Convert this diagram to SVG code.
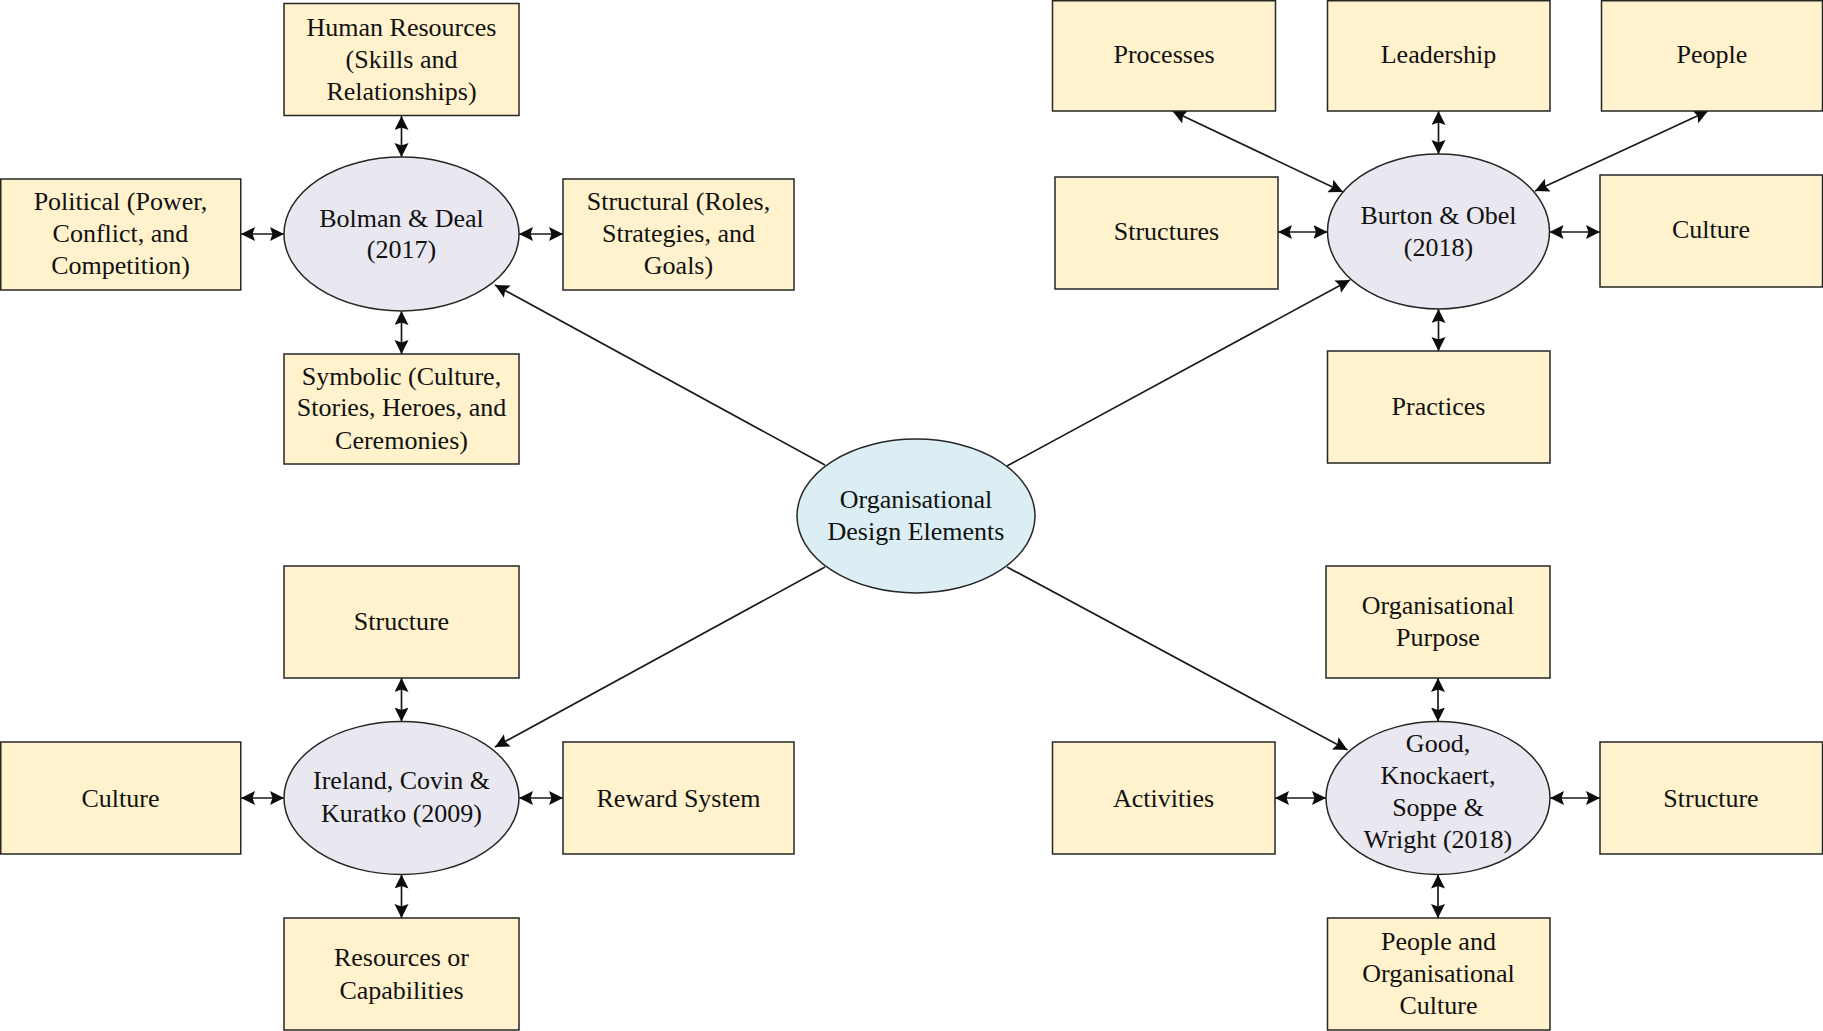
<svg xmlns="http://www.w3.org/2000/svg" width="1823" height="1031" viewBox="0 0 1823 1031" font-family="'Liberation Serif', 'Times New Roman', serif">
  <style>
    .box { fill: #FFF2CC; stroke: #262626; stroke-width: 1.5; }
    .fw { fill: #E9E7F0; stroke: #262626; stroke-width: 1.5; }
    .core { fill: #DAEEF3; stroke: #262626; stroke-width: 1.5; }
    text { font-family: "Liberation Serif", "Times New Roman", serif; font-size: 26px; fill: #111; text-anchor: middle; }
    .link { stroke: #1a1a1a; stroke-width: 1.7; fill: none; }
    .both { marker-start: url(#head); marker-end: url(#head); }
    .one { marker-end: url(#head); }
  </style>
  <defs>
    <!-- notched arrowhead shared by all connectors -->
    <marker id="head" markerUnits="userSpaceOnUse" markerWidth="15" markerHeight="15" refX="14" refY="7" orient="auto-start-reverse">
      <path d="M0,0 L14,7 L0,14 L2.5,7 z" fill="#0d0d0d"/>
    </marker>
  </defs>
  <rect width="1823" height="1031" fill="#ffffff"/>

  <!-- connectors -->
  <g id="connectors">
    <!-- core to frameworks -->
    <line class="link one" x1="825" y1="465" x2="495" y2="285"/>
    <line class="link one" x1="1007" y1="466" x2="1350" y2="280"/>
    <line class="link one" x1="825" y1="567" x2="495" y2="747"/>
    <line class="link one" x1="1007" y1="567" x2="1347.5" y2="750"/>
    <!-- Bolman & Deal spokes -->
    <line class="link both" x1="401.5" y1="116" x2="401.5" y2="157"/>
    <line class="link both" x1="401.5" y1="311" x2="401.5" y2="354"/>
    <line class="link both" x1="241" y1="234" x2="284" y2="234"/>
    <line class="link both" x1="519" y1="234" x2="563" y2="234"/>
    <!-- Ireland, Covin & Kuratko spokes -->
    <line class="link both" x1="401.5" y1="678" x2="401.5" y2="721.5"/>
    <line class="link both" x1="401.5" y1="874.5" x2="401.5" y2="918"/>
    <line class="link both" x1="241" y1="798" x2="284" y2="798"/>
    <line class="link both" x1="519" y1="798" x2="563" y2="798"/>
    <!-- Burton & Obel spokes -->
    <line class="link both" x1="1438.5" y1="111" x2="1438.5" y2="154"/>
    <line class="link both" x1="1438.5" y1="309" x2="1438.5" y2="351"/>
    <line class="link both" x1="1278" y1="232" x2="1327.5" y2="232"/>
    <line class="link both" x1="1549.5" y1="232" x2="1600" y2="232"/>
    <line class="link both" x1="1172.5" y1="111" x2="1343" y2="192"/>
    <line class="link both" x1="1708" y1="111" x2="1535" y2="191"/>
    <!-- Good et al. spokes -->
    <line class="link both" x1="1438" y1="678" x2="1438" y2="721.5"/>
    <line class="link both" x1="1438" y1="874.5" x2="1438" y2="918"/>
    <line class="link both" x1="1275" y1="798" x2="1326" y2="798"/>
    <line class="link both" x1="1550" y1="798" x2="1600" y2="798"/>
  </g>

  <!-- central element -->
  <g id="core">
    <ellipse class="core" cx="916" cy="516" rx="119" ry="77"/>
    <text x="916" y="508">Organisational<tspan x="916" dy="32">Design Elements</tspan></text>
  </g>

  <!-- Bolman & Deal (2017) -->
  <g id="bolman-deal">
    <ellipse class="fw" cx="401.5" cy="234" rx="117.5" ry="77"/>
    <text x="401.5" y="226.5">Bolman &amp; Deal<tspan x="401.5" dy="31.5">(2017)</tspan></text>
  </g>
  <g id="bd-human-resources">
    <rect class="box" x="284" y="3.5" width="235" height="112"/>
    <text x="401.5" y="36">Human Resources<tspan x="401.5" dy="31.5">(Skills and</tspan><tspan x="401.5" dy="32.5">Relationships)</tspan></text>
  </g>
  <g id="bd-political">
    <rect class="box" x="0.75" y="179" width="240" height="111"/>
    <text x="120.5" y="210">Political (Power,<tspan x="120.5" dy="31.5">Conflict, and</tspan><tspan x="120.5" dy="32.5">Competition)</tspan></text>
  </g>
  <g id="bd-structural">
    <rect class="box" x="563" y="179" width="231" height="111"/>
    <text x="678.5" y="210">Structural (Roles,<tspan x="678.5" dy="31.5">Strategies, and</tspan><tspan x="678.5" dy="32.5">Goals)</tspan></text>
  </g>
  <g id="bd-symbolic">
    <rect class="box" x="284" y="354" width="235" height="110"/>
    <text x="401.5" y="384.5">Symbolic (Culture,<tspan x="401.5" dy="31.5">Stories, Heroes, and</tspan><tspan x="401.5" dy="32.5">Ceremonies)</tspan></text>
  </g>

  <!-- Ireland, Covin & Kuratko (2009) -->
  <g id="ireland-covin-kuratko">
    <ellipse class="fw" cx="401.5" cy="798" rx="117.5" ry="76.5"/>
    <text x="401.5" y="789">Ireland, Covin &amp;<tspan x="401.5" dy="32.5">Kuratko (2009)</tspan></text>
  </g>
  <g id="ick-structure">
    <rect class="box" x="284" y="566" width="235" height="112"/>
    <text x="401.5" y="630">Structure</text>
  </g>
  <g id="ick-culture">
    <rect class="box" x="0.75" y="742" width="240" height="112"/>
    <text x="120.5" y="806.5">Culture</text>
  </g>
  <g id="ick-reward">
    <rect class="box" x="563" y="742" width="231" height="112"/>
    <text x="678.5" y="806.5">Reward System</text>
  </g>
  <g id="ick-resources">
    <rect class="box" x="284" y="918" width="235" height="112"/>
    <text x="401.5" y="966">Resources or<tspan x="401.5" dy="32.5">Capabilities</tspan></text>
  </g>

  <!-- Burton & Obel (2018) -->
  <g id="burton-obel">
    <ellipse class="fw" cx="1438.5" cy="231.5" rx="111" ry="77.5"/>
    <text x="1438.5" y="224">Burton &amp; Obel<tspan x="1438.5" dy="31.5">(2018)</tspan></text>
  </g>
  <g id="bo-processes">
    <rect class="box" x="1052.5" y="0.75" width="223" height="110.25"/>
    <text x="1164" y="62.5">Processes</text>
  </g>
  <g id="bo-leadership">
    <rect class="box" x="1327.5" y="0.75" width="222.5" height="110.25"/>
    <text x="1438.5" y="62.5">Leadership</text>
  </g>
  <g id="bo-people">
    <rect class="box" x="1601.5" y="0.75" width="221" height="110.25"/>
    <text x="1712" y="62.5">People</text>
  </g>
  <g id="bo-structures">
    <rect class="box" x="1055" y="177" width="223" height="112"/>
    <text x="1166.5" y="240">Structures</text>
  </g>
  <g id="bo-culture">
    <rect class="box" x="1600" y="175" width="222.5" height="112"/>
    <text x="1711" y="238">Culture</text>
  </g>
  <g id="bo-practices">
    <rect class="box" x="1327.5" y="351" width="222.5" height="112"/>
    <text x="1438.5" y="415">Practices</text>
  </g>

  <!-- Good, Knockaert, Soppe & Wright (2018) -->
  <g id="good-et-al">
    <ellipse class="fw" cx="1438" cy="798" rx="112" ry="76.5"/>
    <text x="1438" y="752">Good,<tspan x="1438" dy="31.5">Knockaert,</tspan><tspan x="1438" dy="32.5">Soppe &amp;</tspan><tspan x="1438" dy="31.5">Wright (2018)</tspan></text>
  </g>
  <g id="gk-purpose">
    <rect class="box" x="1326" y="566" width="224" height="112"/>
    <text x="1438" y="613.5">Organisational<tspan x="1438" dy="32.5">Purpose</tspan></text>
  </g>
  <g id="gk-activities">
    <rect class="box" x="1052.5" y="742" width="222.5" height="112"/>
    <text x="1163.5" y="806.5">Activities</text>
  </g>
  <g id="gk-structure">
    <rect class="box" x="1600" y="742" width="222.5" height="112"/>
    <text x="1711" y="806.5">Structure</text>
  </g>
  <g id="gk-people-culture">
    <rect class="box" x="1327.5" y="918" width="222.5" height="112"/>
    <text x="1438.5" y="949.5">People and<tspan x="1438.5" dy="32.5">Organisational</tspan><tspan x="1438.5" dy="31.5">Culture</tspan></text>
  </g>
</svg>
